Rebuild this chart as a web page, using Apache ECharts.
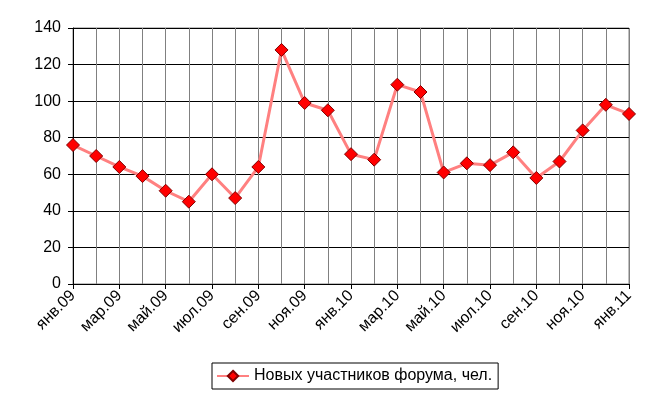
<!DOCTYPE html>
<html><head><meta charset="utf-8">
<script src="https://cdn.jsdelivr.net/npm/echarts@6/dist/echarts.min.js"></script>
<style>html,body{margin:0;padding:0;background:#fff}#c{width:645px;height:399px}</style>
</head><body><div id="c"></div>
<script>
const categories = ['янв.09','фев.09','мар.09','апр.09','май.09','июн.09','июл.09','авг.09','сен.09','окт.09','ноя.09','дек.09',
  'янв.10','фев.10','мар.10','апр.10','май.10','июн.10','июл.10','авг.10','сен.10','окт.10','ноя.10','дек.10','янв.11'];
const values = [76,70,64,59,51,45,60,47,64,128,99,95,71,68,109,105,61,66,65,72,58,67,84,98,93];
const seriesName = 'Новых участников форума, чел.';
const yTicks = {min:0, max:140, interval:20};

const chart = echarts.init(document.getElementById('c'), null, {renderer:'canvas'});
const font = 'Liberation Sans, Arial, sans-serif';
chart.setOption({
  animation:false,
  grid:{left:73,right:16,top:28,bottom:115,show:true,borderColor:'#808080',borderWidth:1},
  xAxis:{type:'category',data:categories,boundaryGap:false,
    axisLine:{lineStyle:{color:'#000',width:1}},
    axisTick:{show:true,interval:1,length:5,lineStyle:{color:'#000'}},
    axisLabel:{interval:1,rotate:45,color:'#000',fontFamily:font,fontSize:16,margin:9},
    splitLine:{show:true,interval:0,lineStyle:{color:'#808080',width:1}}},
  yAxis:{type:'value',min:yTicks.min,max:yTicks.max,interval:yTicks.interval,
    axisLine:{show:true,lineStyle:{color:'#000',width:1}},
    axisTick:{show:true,length:5,lineStyle:{color:'#000'}},
    axisLabel:{color:'#000',fontFamily:font,fontSize:16,margin:12},
    splitLine:{show:true,lineStyle:{color:'#000',width:1}}},
  legend:{bottom:10,left:212,data:[seriesName],
    backgroundColor:'#fff',borderColor:'#000',borderWidth:1,borderRadius:0,padding:[5,6,5,4],
    itemWidth:32,itemHeight:13,itemGap:5,
    textStyle:{color:'#000',fontFamily:font,fontSize:16}},
  series:[{name:seriesName,type:'line',data:values,
    lineStyle:{color:'#FF8080',width:3},
    itemStyle:{color:'#FF0000',borderColor:'#800000',borderWidth:1},
    symbol:'diamond',symbolSize:13,showAllSymbol:true}]
});
</script></body></html>
